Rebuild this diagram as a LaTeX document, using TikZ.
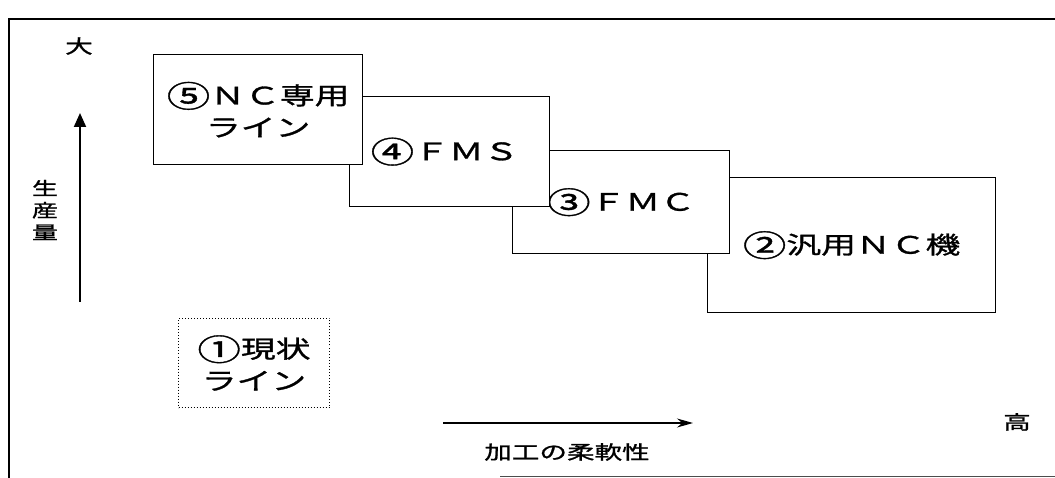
\documentclass[tikz,border=0pt]{standalone}
\usepackage{fontspec}
\newfontfamily\jp{Noto Sans CJK JP}[FakeStretch=1.45, FakeBold=1.2]
\newcommand{\circnum}[1]{\raisebox{-0.12em}{\scalebox{1.25}{#1}}}
\usetikzlibrary{arrows.meta}
\begin{document}
\begin{tikzpicture}[x=1pt,y=-1pt,
  box/.style={draw, line width=1.3pt, fill=white, inner sep=0pt, anchor=north west,
    font=\jp\fontsize{24}{32}\selectfont, align=center},
  nowbox/.style={box, line width=1pt, dotted},
  lbl/.style={inner sep=0pt, font=\jp\fontsize{19}{22}\selectfont, align=center},
  frame/.style={line width=1.4pt}]
\useasboundingbox (0,0) rectangle (1055,478);
% outer frame
\coordinate (ftr) at (1055,19);
\coordinate (ftl) at (9,19);
\coordinate (fbl) at (9,478);
\coordinate (fbm) at (500,476);
\coordinate (fbr) at (1055,476);
\draw[frame] (ftr) -- (ftl) -- (fbl);
\draw[line width=1pt, black!70] (fbm) -- (fbr);
% boxes, back to front
\node[box, minimum width=288pt, minimum height=135pt] (b2) at (707,177) {\raisebox{2pt}{\circnum{②}汎用ＮＣ機}};
\node[box, minimum width=217pt, minimum height=103pt] (b3) at (512,150) {\circnum{③}ＦＭＣ};
\node[box, minimum width=200pt, minimum height=110pt] (b4) at (349,96) {\hspace*{-10pt}\raisebox{4pt}{\circnum{④}ＦＭＳ}};
\node[box, minimum width=209pt, minimum height=110pt] (b5) at (153,54) {\circnum{⑤}ＮＣ専用\\ライン};
\node[nowbox, minimum width=151pt, minimum height=89pt] (b1) at (178,318) {\circnum{①}現状\\ライン};
% axis labels
\node[lbl] (big) at (79,46) {大};
\node[lbl, font=\jp\fontsize{18}{22}\selectfont] (qty) at (45,210) {生\\産\\量};
\node[lbl] (flex) at (567,452) {加工の柔軟性};
\node[lbl] (high) at (1017,422) {高};
% axis arrows
\coordinate (ya) at (80,302);
\coordinate (yb) at (80,113);
\draw[line width=2pt, -{Triangle[length=14pt,width=12pt]}] (ya) -- (yb);
\coordinate (xa) at (443,423);
\coordinate (xb) at (693,423);
\draw[line width=1.2pt, -{Stealth[length=16pt,width=9pt]}] (xa) -- (xb);
\end{tikzpicture}
\end{document}
